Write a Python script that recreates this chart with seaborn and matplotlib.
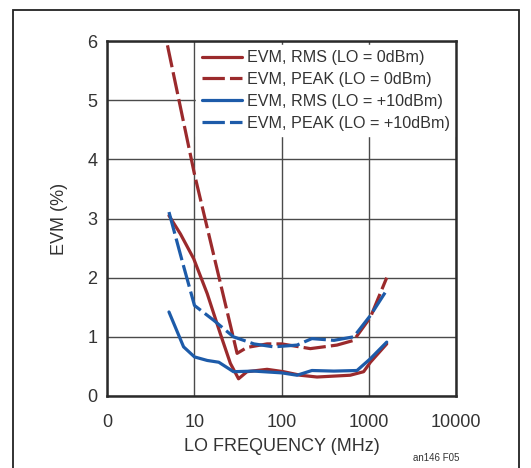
import matplotlib
matplotlib.use("Agg")
import matplotlib.pyplot as plt
from matplotlib.patches import Rectangle
from matplotlib.ticker import FixedLocator, NullLocator
import seaborn as sns

# LO frequency (MHz) and EVM (%)
f_red_rms = [5.1, 6.9, 9.8, 14, 19.8, 25.8, 32, 40, 68, 105, 163, 254, 610, 870, 1040, 1600]
evm_red_rms = [3.05, 2.74, 2.32, 1.73, 1.05, 0.55, 0.29, 0.41, 0.45, 0.41, 0.35, 0.32, 0.35, 0.41, 0.57, 0.88]

f_red_peak = [4.9, 10, 30.8, 40, 68, 100, 213, 430, 670, 1040, 1600]
evm_red_peak = [5.93, 3.75, 0.72, 0.82, 0.88, 0.88, 0.80, 0.86, 0.94, 1.33, 2.0]

f_blue_rms = [5.1, 7.5, 10, 14, 19, 28, 48, 100, 150, 222, 397, 730, 1040, 1600]
evm_blue_rms = [1.42, 0.83, 0.66, 0.60, 0.57, 0.41, 0.42, 0.39, 0.35, 0.43, 0.42, 0.43, 0.63, 0.91]

f_blue_peak = [5.1, 7.2, 10, 16.6, 28, 48, 81, 150, 222, 397, 670, 1040, 1600]
evm_blue_peak = [3.11, 2.29, 1.53, 1.28, 1.0, 0.88, 0.83, 0.86, 0.97, 0.94, 1.0, 1.36, 1.79]

labels = ["EVM, RMS (LO = 0dBm)", "EVM, PEAK (LO = 0dBm)",
          "EVM, RMS (LO = +10dBm)", "EVM, PEAK (LO = +10dBm)"]
x_ticks = [1, 10, 100, 1000, 10000]
x_ticklabels = ["0", "10", "100", "1000", "10000"]

red = "#9b2a2c"
blue = "#1d5ba9"
txt = "#333333"

sns.set_style("white")
plt.rcParams['font.family'] = ['Liberation Sans Narrow', 'Liberation Sans', 'DejaVu Sans']

fig = plt.figure(figsize=(5.31, 4.68), dpi=100)
ax = fig.add_axes([0.202, 0.154, 0.657, 0.758])

dash = (0, (7, 1.6))
series = [
    (f_red_rms, evm_red_rms, red, "-"),
    (f_red_peak, evm_red_peak, red, dash),
    (f_blue_rms, evm_blue_rms, blue, "-"),
    (f_blue_peak, evm_blue_peak, blue, dash),
]
for (xs, ys, c, ls), lab in zip(series, labels):
    sns.lineplot(x=xs, y=ys, ax=ax, color=c, linewidth=2.3, label=lab, sort=False)
    ax.lines[-1].set_linestyle(ls)

ax.set_xscale("log")
ax.set_xlim(1, 10000)
ax.set_ylim(0, 6)
ax.xaxis.set_major_locator(FixedLocator(x_ticks))
ax.xaxis.set_minor_locator(NullLocator())
ax.set_xticklabels(x_ticklabels)
ax.set_yticks(range(0, 7))
ax.grid(True, color="#4a4a4a", linewidth=1.0)
ax.set_axisbelow(True)
for s in ax.spines.values():
    s.set_color("#2a2a2a")
    s.set_linewidth(1.8)
    s.set_zorder(6)
ax.tick_params(axis="x", length=0, labelsize=13, colors=txt, pad=13)
ax.tick_params(axis="y", length=0, labelsize=13, colors=txt, pad=7)
ax.set_xlabel("LO FREQUENCY (MHz)", fontsize=13, color=txt, labelpad=5)
ax.set_ylabel("EVM (%)", fontsize=13, color=txt, labelpad=14)

leg = ax.legend(loc="upper left", bbox_to_anchor=(0.254, 0.99), frameon=True,
                fancybox=False, framealpha=1, edgecolor="white", fontsize=11.6,
                handlelength=2.5, handletextpad=0.3, labelspacing=0.42,
                borderpad=0.35, borderaxespad=0.0)
for t in leg.get_texts():
    t.set_color(txt)

fig.text(0.778, 0.021, "an146 F05", fontsize=7, color=txt, va="center")
fig.patches.append(Rectangle((0.025, -0.05), 0.952, 1.028, transform=fig.transFigure,
                             fill=False, edgecolor="#222222", linewidth=1.3))

fig.savefig("out.png", dpi=100)
